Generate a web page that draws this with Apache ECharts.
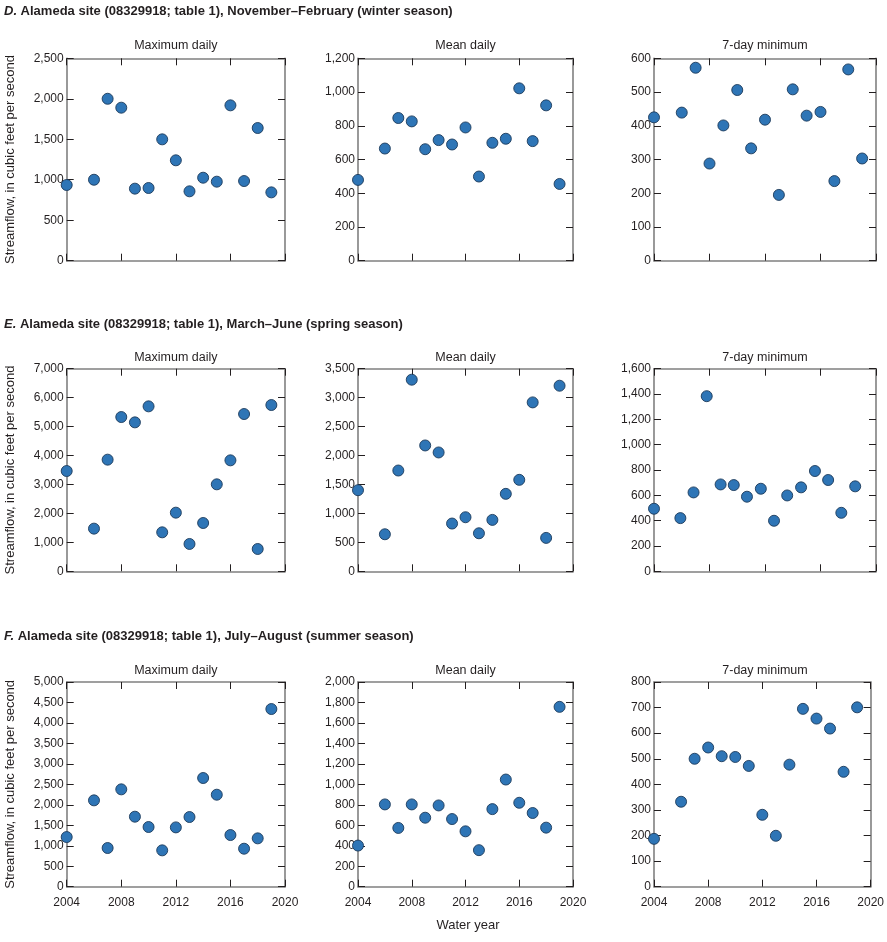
<!DOCTYPE html>
<html>
<head>
<meta charset="utf-8">
<script src="https://cdn.jsdelivr.net/npm/echarts@6/dist/echarts.min.js"></script>
<style>
html,body{margin:0;padding:0;background:#fff;}
#chart{width:887px;height:942px;}
</style>
</head>
<body>
<div id="chart"></div>
<script>
// ---- Data ----
const years = [2004, 2006, 2007, 2008, 2009, 2010, 2011, 2012, 2013, 2014, 2015, 2016, 2017, 2018, 2019];
// the spring 7-day minimum panel is drawn with points slightly shifted in the original
const yearsSpring7 = [2004, 2005.9, 2006.85, 2007.8, 2008.8, 2009.75, 2010.7, 2011.7, 2012.65, 2013.6, 2014.6, 2015.6, 2016.55, 2017.5, 2018.5];
const xTicks = [2004, 2008, 2012, 2016, 2020];

const winterMax  = [935, 1000, 2000, 1890, 890, 898, 1499, 1240, 857, 1025, 976, 1919, 984, 1639, 844];
const winterMean = [479, 665, 846, 826, 661, 715, 689, 790, 499, 699, 723, 1022, 709, 921, 455];
const winter7    = [425, 439, 572, 288, 401, 506, 333, 418, 195, 508, 430, 441, 236, 567, 303];

const springMax  = [3465, 1474, 3857, 5330, 5146, 5699, 1347, 2026, 944, 1669, 3005, 3834, 5434, 771, 5745];
const springMean = [1401, 640, 1741, 3310, 2174, 2053, 825, 934, 657, 888, 1338, 1580, 2918, 577, 3206];
const spring7    = [494, 420, 623, 1383, 686, 681, 589, 652, 399, 599, 663, 792, 721, 462, 671];

const summerMax  = [1213, 2109, 945, 2378, 1710, 1458, 888, 1449, 1702, 2655, 2247, 1262, 928, 1181, 4340];
const summerMean = [402, 804, 574, 804, 674, 794, 661, 541, 357, 758, 1047, 820, 720, 577, 1757];
const summer7    = [187, 332, 500, 544, 510, 507, 472, 281, 199, 477, 695, 657, 618, 449, 701];

const rowTitles = [
  ['D.', ' Alameda site (08329918; table 1), November\u2013February (winter season)'],
  ['E.', ' Alameda site (08329918; table 1), March\u2013June (spring season)'],
  ['F.', ' Alameda site (08329918; table 1), July\u2013August (summer season)']
];
const panelTitles = ['Maximum daily', 'Mean daily', '7-day minimum'];
const yLabel = 'Streamflow, in cubic feet per second';
const xLabel = 'Water year';

// y axis scale per panel [max, interval]
const yScales = [
  [[2500, 500], [1200, 200], [600, 100]],
  [[7000, 1000], [3500, 500], [1600, 200]],
  [[5000, 500], [2000, 200], [800, 100]]
];
const panelData = [
  [[years, winterMax], [years, winterMean], [years, winter7]],
  [[years, springMax], [years, springMean], [yearsSpring7, spring7]],
  [[years, summerMax], [years, summerMean], [years, summer7]]
];

// ---- Layout ----
const FONT = '"Liberation Sans Narrow", "Arial Narrow", "Liberation Sans", Arial, sans-serif';
const TXT = '#231f20';
const AXIS = '#808080';
const colLeft = [66.7, 358, 654];
const colW = [218.3, 215, 222];
const rowTop = [58.3, 368.7, 682];
const rowH = [202.4, 202.6, 204.7];
const rowTitleY = [11.5, 324.5, 636.5];
const panelTitleY = [45.5, 357.5, 670.5];

function fmt(v) {
  return String(v).replace(/\B(?=(\d{3})+(?!\d))/g, ',');
}

const grid = [], xAxis = [], yAxis = [], series = [], graphic = [];

for (let r = 0; r < 3; r++) {
  graphic.push({
    type: 'text', x: 4, y: rowTitleY[r],
    style: {
      text: '{i|' + rowTitles[r][0] + '}{b|' + rowTitles[r][1] + '}',
      verticalAlign: 'middle',
      rich: {
        i: { fontFamily: FONT, fontSize: 13, fontWeight: 'bold', fontStyle: 'italic', fill: TXT },
        b: { fontFamily: FONT, fontSize: 13, fontWeight: 'bold', fill: TXT }
      }
    }
  });
  for (let c = 0; c < 3; c++) {
    const gi = grid.length;
    grid.push({ left: colLeft[c], top: rowTop[r], width: colW[c], height: rowH[r], show: false, containLabel: false });
    graphic.push({
      type: 'text', x: colLeft[c] + colW[c] / 2, y: panelTitleY[r],
      style: { text: panelTitles[c], fontFamily: FONT, fontSize: 12.5, fill: TXT, align: 'center', verticalAlign: 'middle' }
    });
    const tick = { show: true, inside: true, length: 7, lineStyle: { color: TXT, width: 1 } };
    const line = { show: true, onZero: false, lineStyle: { color: AXIS, width: 1.6 } };
    const baseX = { gridIndex: gi, type: 'value', min: xTicks[0], max: xTicks[xTicks.length - 1], interval: 4,
      axisLine: line, axisTick: tick, splitLine: { show: false } };
    xAxis.push(Object.assign({}, baseX, {
      position: 'bottom',
      axisLabel: { show: r === 2, formatter: v => String(v), margin: 10, fontFamily: FONT, fontSize: 12, color: TXT }
    }));
    xAxis.push(Object.assign({}, baseX, { position: 'top', axisLabel: { show: false } }));
    const [ymax, yint] = yScales[r][c];
    const baseY = { gridIndex: gi, type: 'value', min: 0, max: ymax, interval: yint,
      axisLine: line, axisTick: tick, splitLine: { show: false } };
    const yl = Object.assign({}, baseY, {
      position: 'left',
      axisLabel: { formatter: fmt, margin: 3, fontFamily: FONT, fontSize: 12, color: TXT }
    });
    if (c === 0) {
      Object.assign(yl, {
        name: yLabel, nameLocation: 'middle', nameGap: 50, nameRotate: 90,
        nameTextStyle: { fontFamily: FONT, fontSize: 13, color: TXT }
      });
    }
    yAxis.push(yl);
    yAxis.push(Object.assign({}, baseY, { position: 'right', axisLabel: { show: false } }));

    const [xs, vs] = panelData[r][c];
    series.push({
      type: 'scatter',
      xAxisIndex: gi * 2, yAxisIndex: gi * 2,
      data: xs.map((x, i) => [x, vs[i]]),
      symbolSize: 11,
      clip: true,
      itemStyle: { color: '#2E75B6', borderColor: '#1C3A5A', borderWidth: 0.9, opacity: 1 },
      emphasis: { disabled: true }
    });
  }
}

graphic.push({
  type: 'text', x: 468, y: 925,
  style: { text: xLabel, fontFamily: FONT, fontSize: 13, fill: TXT, align: 'center', verticalAlign: 'middle' }
});

const chart = echarts.init(document.getElementById('chart'), null, { renderer: 'canvas' });
chart.setOption({
  animation: false,
  backgroundColor: '#ffffff',
  grid, xAxis, yAxis, series, graphic
});
</script>
</body>
</html>
